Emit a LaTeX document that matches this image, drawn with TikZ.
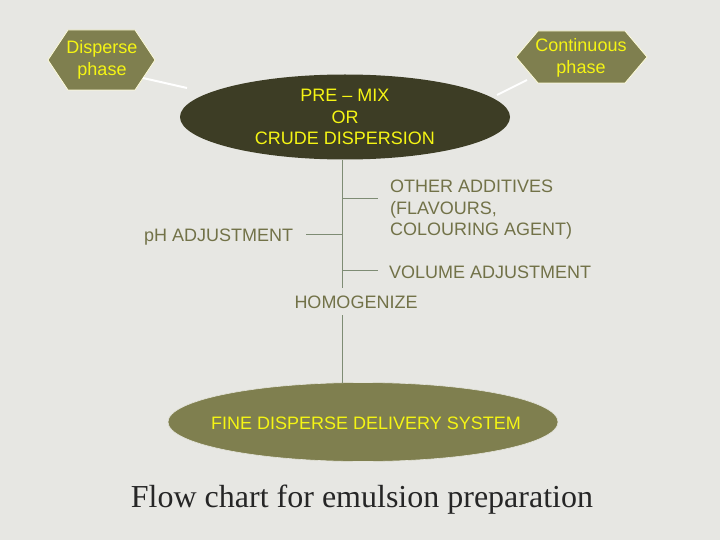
\documentclass[tikz,border=0pt]{standalone}
\usepackage{fontspec}
\setmainfont{Liberation Serif}
\setsansfont{Liberation Sans}
\usetikzlibrary{shapes.geometric}
\definecolor{bgc}{HTML}{E7E7E3}
\definecolor{olivef}{HTML}{7F7F4F}
\definecolor{darkol}{HTML}{3D3D25}
\definecolor{ytext}{HTML}{F5F514}
\definecolor{gtext}{HTML}{727248}
\definecolor{lnc}{HTML}{7E8C74}
\begin{document}
\begin{tikzpicture}[x=1pt,y=-1pt,
  hexbox/.style={fill=olivef,draw=white!85!yellow,line width=0.8pt},
  ytxt/.style={text=ytext,font=\sffamily\fontsize{18}{21.5}\selectfont,align=center,inner sep=0pt},
  gtxt/.style={text=gtext,font=\sffamily\fontsize{18}{21.5}\selectfont,align=left,inner sep=0pt},
  link/.style={draw=white,line width=2pt},
  branch/.style={draw=lnc,line width=0.9pt},
  ell/.style={ellipse,inner sep=0pt}]
\fill[bgc] (0,0) rectangle (720,540);
\useasboundingbox (0,0) rectangle (720,540);
% hexagons
\path[hexbox] (48,60) -- (68,30) -- (135,30) -- (155,60) -- (135,90) -- (68,90) -- cycle;
\node[ytxt] (disp) at (102,60) {Disperse\\phase};
\path[hexbox] (516,57) -- (538,31) -- (625,31) -- (647,57) -- (625,83) -- (538,83) -- cycle;
\node[ytxt] (cont) at (581,58) {Continuous\\phase};
% ellipses
\node[ell,fill=darkol,minimum width=330,minimum height=85] (pre) at (345,117) {};
\node[ytxt] (pretxt) at (345,117) {PRE -- MIX\\OR\\CRUDE DISPERSION};
\node[ell,fill=olivef,minimum width=390,minimum height=79,draw=white!80!olivef,line width=0.6pt] (fine) at (363,422) {};
\node[ytxt] (finetxt) at (366,423) {FINE DISPERSE DELIVERY SYSTEM};
% white links
\coordinate (d1) at (143,78);
\coordinate (d2) at (187,88);
\coordinate (c1) at (527,80);
\coordinate (c2) at (497,95);
\draw[link] (d1) -- (d2);
\draw[link] (c1) -- (c2);
% labels
\node[gtxt,anchor=west] (oth) at (390,210) {OTHER ADDITIVES\\(FLAVOURS,\\COLOURING AGENT)};
\node[gtxt,anchor=west] (ph) at (144,237) {pH ADJUSTMENT};
\node[gtxt,anchor=west] (vol) at (389,272) {VOLUME ADJUSTMENT};
\node[gtxt,anchor=center] (hom) at (356,302) {HOMOGENIZE};
% branches
\coordinate (t0) at (342,160);
\coordinate (t1) at (342,198);
\coordinate (t2) at (342,234);
\coordinate (t3) at (342,270);
\coordinate (t4) at (342,288);
\coordinate (e1) at (378,198);
\coordinate (e2) at (306,234);
\coordinate (e3) at (378,270);
\coordinate (h0) at (342,315);
\coordinate (h1) at (342,383);
\draw[branch] (t0) -- (t4);
\draw[branch] (t1) -- (e1);
\draw[branch] (t2) -- (e2);
\draw[branch] (t3) -- (e3);
\draw[branch] (h0) -- (h1);
% title
\node[inner sep=0pt,text=black!85,font=\fontsize{32}{38}\selectfont] (title) at (362,500) {Flow chart for emulsion preparation};
\end{tikzpicture}
\end{document}
